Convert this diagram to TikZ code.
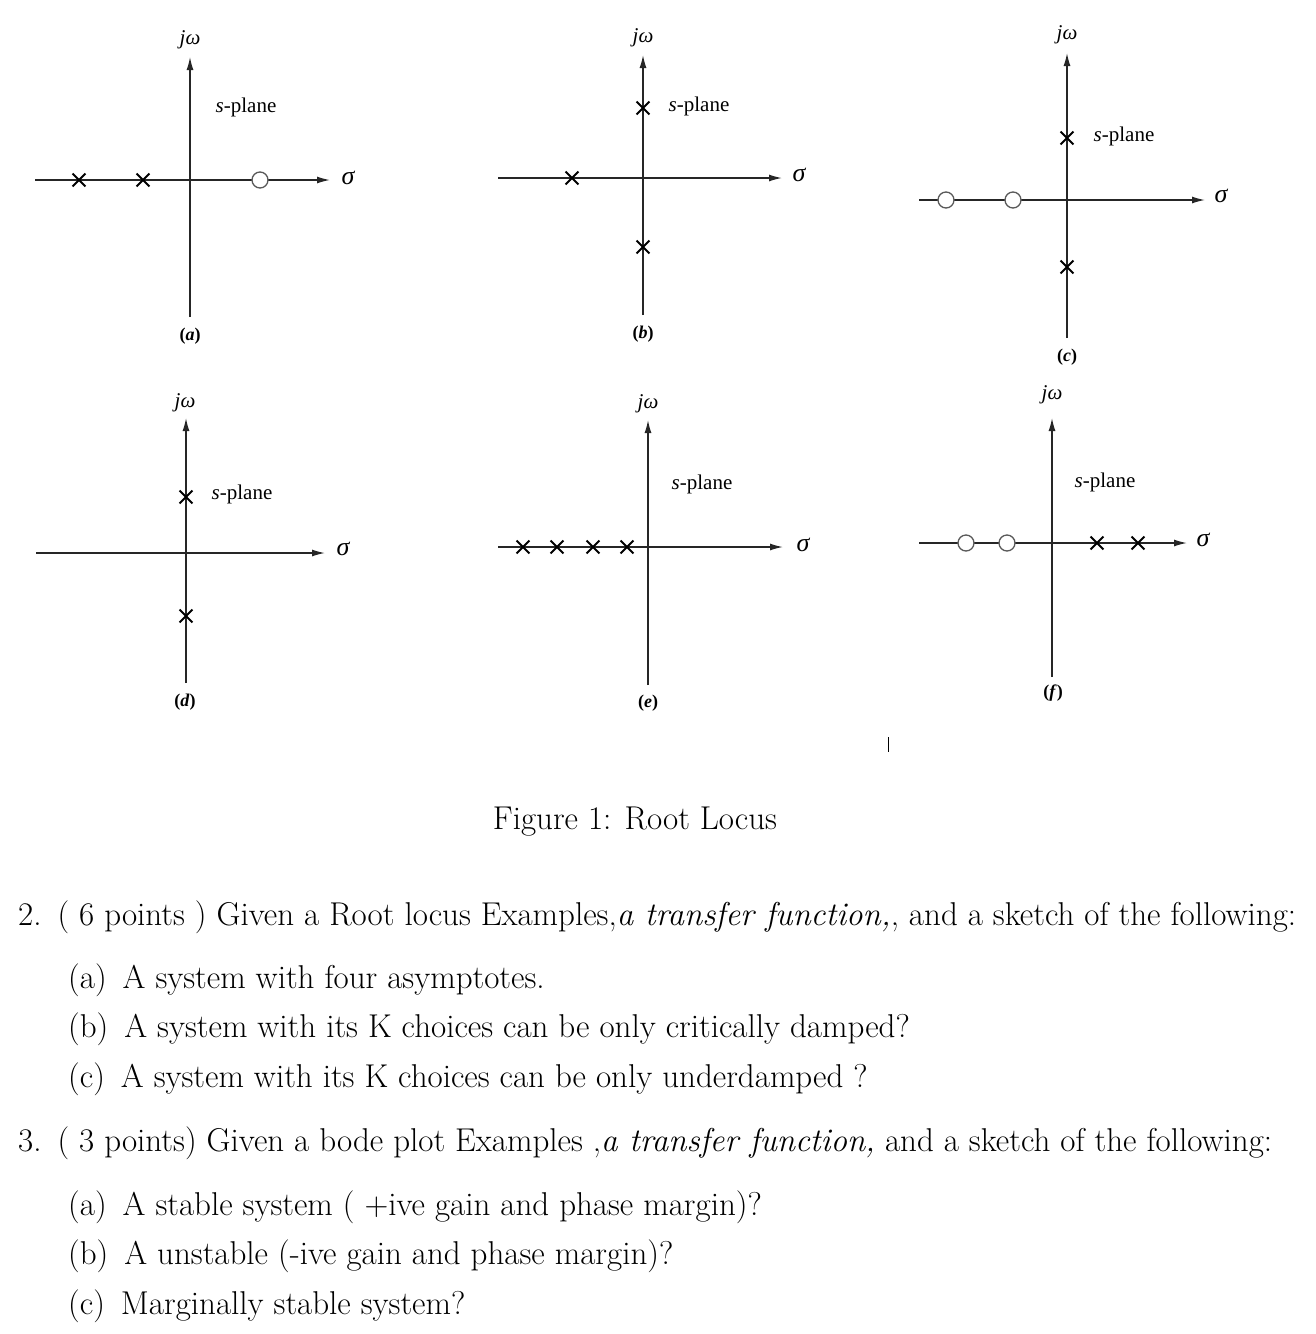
\documentclass[tikz,border=0pt]{standalone}
\usepackage{fontspec}
\usepackage{tikz}
\usetikzlibrary{arrows.meta,shapes.misc}
\newfontfamily\figfont{Liberation Serif}

\begin{document}
\begin{tikzpicture}[x=1pt,y=-1pt,
  axis/.style={line width=1.4pt,draw=black!85,-{Latex[length=13pt,width=7pt]}},
  pole/.style={cross out,draw=black,line width=1.9pt,minimum size=11pt,inner sep=0pt},
  zero/.style={circle,draw=black!65,line width=1.3pt,fill=white,minimum size=16pt,inner sep=0pt},
  lbl/.style={font=\figfont\fontsize{21}{24}\selectfont},
  sig/.style={font=\figfont\fontsize{26}{28}\selectfont},
  tag/.style={font=\figfont\bfseries\fontsize{18}{20}\selectfont},
  txt/.style={anchor=west,inner sep=0pt,font=\fontsize{33}{38}\selectfont}]
\useasboundingbox (0,0) rectangle (1316,1334);

% (a)
\coordinate (aL) at (35,180);
\coordinate (aR) at (330,180);
\coordinate (aB) at (190,317);
\coordinate (aT) at (190,57);
\draw[axis] (aL) -- (aR);
\draw[axis] (aB) -- (aT);
\foreach \x/\name in {79/a1,143/a2}
  {\node[pole] (\name) at (\x,180) {};}
\node[zero] (az) at (260,180) {};
\node[lbl] (aw) at (190,40) {\itshape jω};
\node[sig] (as) at (348,178) {\itshape σ};
\node[lbl] (ap) at (246,107) {\textit{s}-plane};
\node[tag] (an) at (190,336) {(\textit{a})};

% (b)
\coordinate (bL) at (498,178);
\coordinate (bR) at (782,178);
\coordinate (bB) at (643,315);
\coordinate (bT) at (643,55);
\draw[axis] (bL) -- (bR);
\draw[axis] (bB) -- (bT);
\foreach \x/\y/\name in {643/108/b1,643/247/b2,572/178/b3}
  {\node[pole] (\name) at (\x,\y) {};}
\node[lbl] (bw) at (643,38) {\itshape jω};
\node[sig] (bs) at (799,175) {\itshape σ};
\node[lbl] (bp) at (699,106) {\textit{s}-plane};
\node[tag] (bn) at (643,334) {(\textit{b})};

% (c)
\coordinate (cL) at (919,200);
\coordinate (cR) at (1205,200);
\coordinate (cB) at (1067,338);
\coordinate (cT) at (1067,53);
\draw[axis] (cL) -- (cR);
\draw[axis] (cB) -- (cT);
\foreach \y/\name in {138/c1,267/c2}
  {\node[pole] (\name) at (1067,\y) {};}
\foreach \x/\name in {946/c3,1013/c4}
  {\node[zero] (\name) at (\x,200) {};}
\node[lbl] (cw) at (1067,35) {\itshape jω};
\node[sig] (cs) at (1221,196) {\itshape σ};
\node[lbl] (cp) at (1124,136) {\textit{s}-plane};
\node[tag] (cn) at (1067,357) {(\textit{c})};

% (d)
\coordinate (dL) at (36,553);
\coordinate (dR) at (325,553);
\coordinate (dB) at (186,683);
\coordinate (dT) at (186,418);
\draw[axis] (dL) -- (dR);
\draw[axis] (dB) -- (dT);
\foreach \y/\name in {497/d1,616/d2}
  {\node[pole] (\name) at (186,\y) {};}
\node[lbl] (dw) at (185,403) {\itshape jω};
\node[sig] (ds) at (343,549) {\itshape σ};
\node[lbl] (dp) at (242,494) {\textit{s}-plane};
\node[tag] (dn) at (185,702) {(\textit{d})};

% (e)
\coordinate (eL) at (498,547);
\coordinate (eR) at (783,547);
\coordinate (eB) at (648,685);
\coordinate (eT) at (648,420);
\draw[axis] (eL) -- (eR);
\draw[axis] (eB) -- (eT);
\foreach \x/\name in {523/e1,557/e2,593/e3,627/e4}
  {\node[pole] (\name) at (\x,547) {};}
\node[lbl] (ew) at (648,404) {\itshape jω};
\node[sig] (es) at (803,545) {\itshape σ};
\node[lbl] (ep) at (702,484) {\textit{s}-plane};
\node[tag] (en) at (648,703) {(\textit{e})};

% (f)
\coordinate (fL) at (919,543);
\coordinate (fR) at (1187,543);
\coordinate (fB) at (1052,677);
\coordinate (fT) at (1052,418);
\draw[axis] (fL) -- (fR);
\draw[axis] (fB) -- (fT);
\foreach \x/\name in {1097/f1,1138/f2}
  {\node[pole] (\name) at (\x,543) {};}
\foreach \x/\name in {966/f3,1007/f4}
  {\node[zero] (\name) at (\x,543) {};}
\node[lbl] (fw) at (1052,395) {\itshape jω};
\node[sig] (fs) at (1203,540) {\itshape σ};
\node[lbl] (fp) at (1105,482) {\textit{s}-plane};
\node[tag] (fn) at (1053,693) {(\textit{f})};

% stray mark
\coordinate (m1) at (888,737);
\coordinate (m2) at (888,752);
\draw[line width=1pt] (m1) -- (m2);

% caption and questions
\node[font=\fontsize{33}{38}\selectfont] (cap) at (635,822) {Figure 1: Root Locus};
\node[txt] (q2) at (18,917) {2.\hspace{16pt}( 6 points ) Given a Root locus Examples,\textit{a transfer function,}, and a sketch of the following:};
\node[txt] (q2a) at (68,980) {(a)\hspace{16pt}A system with four asymptotes.};
\node[txt] (q2b) at (68,1029) {(b)\hspace{16pt}A system with its K choices can be only critically damped?};
\node[txt] (q2c) at (68,1079) {(c)\hspace{16pt}A system with its K choices can be only underdamped ?};
\node[txt] (q3) at (18,1143) {3.\hspace{16pt}( 3 points) Given a bode plot Examples ,\textit{a transfer function,} and a sketch of the following:};
\node[txt] (q3a) at (68,1207) {(a)\hspace{16pt}A stable system ( +ive gain and phase margin)?};
\node[txt] (q3b) at (68,1256) {(b)\hspace{16pt}A unstable (-ive gain and phase margin)?};
\node[txt] (q3c) at (68,1306) {(c)\hspace{16pt}Marginally stable system?};
\end{tikzpicture}
\end{document}
